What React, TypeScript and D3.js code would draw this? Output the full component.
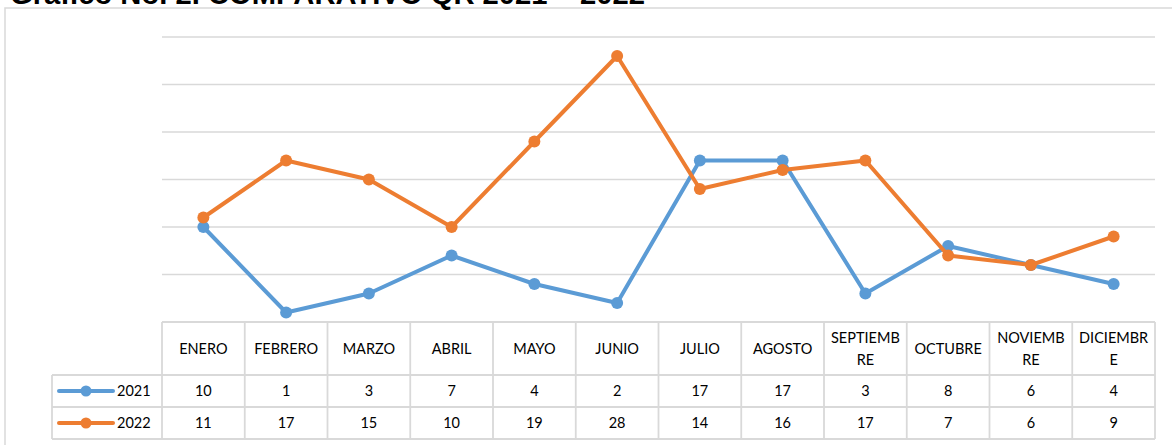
import { useEffect, useRef } from 'react'
import * as d3 from 'd3'

// months as shown in the table header (wrapped as in the original)
const months = [
  'ENERO', 'FEBRERO', 'MARZO', 'ABRIL', 'MAYO', 'JUNIO',
  'JULIO', 'AGOSTO', 'SEPTIEMBRE', 'OCTUBRE', 'NOVIEMBRE', 'DICIEMBRE',
]
const monthLines = [
  ['ENERO'], ['FEBRERO'], ['MARZO'], ['ABRIL'], ['MAYO'], ['JUNIO'],
  ['JULIO'], ['AGOSTO'], ['SEPTIEMB', 'RE'], ['OCTUBRE'], ['NOVIEMB', 'RE'], ['DICIEMBR', 'E'],
]
const values2021 = [10, 1, 3, 7, 4, 2, 17, 17, 3, 8, 6, 4]
const values2022 = [11, 17, 15, 10, 19, 28, 14, 16, 17, 7, 6, 9]
const seriesNames = ['2021', '2022']
const yTicks = [0, 5, 10, 15, 20, 25, 30]
const title = 'Grafico No. 2. COMPARATIVO QR 2021 – 2022'

const W = 1172
const H = 445
const colors = ['#5B9BD5', '#ED7D31']
const gridColor = '#d9d9d9'
const font = 'Lato, "Open Sans", sans-serif'

function App() {
  const ref = useRef<SVGSVGElement>(null)

  useEffect(() => {
    const svg = d3.select(ref.current)
    svg.selectAll('*').remove()

    const left = 162
    const right = 1155
    const plotTop = 37
    const plotBottom = 322
    const row1 = 375
    const row2 = 407
    const row3 = 439
    const legendLeft = 52

    const x = d3.scaleBand<string>().domain(months).range([left, right])
    const y = d3.scaleLinear().domain([0, 30]).range([plotBottom, plotTop])

    // outer chart frame
    svg.append('rect')
      .attr('x', 5).attr('y', 8)
      .attr('width', 1170).attr('height', 460)
      .attr('fill', 'white')
      .attr('stroke', gridColor).attr('stroke-width', 1.5)

    // title (cut by the top edge, as in the source image)
    svg.append('text')
      .attr('x', 10).attr('y', 4)
      .attr('font-family', '"Liberation Sans", Arial, sans-serif')
      .attr('font-weight', 'bold')
      .attr('font-size', 29)
      .attr('textLength', 635)
      .attr('lengthAdjust', 'spacingAndGlyphs')
      .attr('fill', '#000')
      .text(title)

    // horizontal gridlines
    svg.append('g')
      .selectAll('line')
      .data(yTicks.filter((t) => t > 0))
      .join('line')
      .attr('x1', left).attr('x2', right)
      .attr('y1', (d) => y(d)).attr('y2', (d) => y(d))
      .attr('stroke', gridColor).attr('stroke-width', 1.5)

    // data table grid
    const table = svg.append('g')
      .attr('stroke', gridColor).attr('stroke-width', 1.8).attr('fill', 'none')
    table.append('line').attr('x1', left).attr('x2', right).attr('y1', plotBottom).attr('y2', plotBottom)
    table.append('line').attr('x1', legendLeft).attr('x2', right).attr('y1', row1).attr('y2', row1)
    table.append('line').attr('x1', legendLeft).attr('x2', right).attr('y1', row2).attr('y2', row2)
    table.append('line').attr('x1', legendLeft).attr('x2', right).attr('y1', row3).attr('y2', row3)
    table.append('line').attr('x1', legendLeft).attr('x2', legendLeft).attr('y1', row1).attr('y2', row3)
    const colEdges = months.map((m) => x(m)!).concat([right])
    table.selectAll('line.col')
      .data(colEdges)
      .join('line')
      .attr('class', 'col')
      .attr('x1', (d) => d).attr('x2', (d) => d)
      .attr('y1', plotBottom).attr('y2', row3)

    const bw = x.bandwidth()
    const cx = (m: string) => x(m)! + bw / 2

    // header labels
    const header = svg.append('g')
      .attr('font-family', font).attr('font-size', 14.5)
      .attr('text-anchor', 'middle').attr('fill', '#000')
    months.forEach((m, i) => {
      const lines = monthLines[i]
      const mid = (plotBottom + row1) / 2
      lines.forEach((ln, j) => {
        const off = lines.length === 1 ? 0 : (j === 0 ? -11 : 11)
        header.append('text')
          .attr('x', cx(m)).attr('y', mid + off)
          .attr('dy', '0.35em')
          .text(ln)
      })
    })

    // value rows and legend
    const allSeries = [values2021, values2022]
    const rowMids = [(row1 + row2) / 2, (row2 + row3) / 2]
    allSeries.forEach((vals, s) => {
      svg.append('g')
        .attr('font-family', font).attr('font-size', 14.5)
        .attr('text-anchor', 'middle').attr('fill', '#000')
        .selectAll('text')
        .data(vals)
        .join('text')
        .attr('x', (_, i) => cx(months[i]))
        .attr('y', rowMids[s])
        .attr('dy', '0.35em')
        .text((d) => d)

      const lg = svg.append('g')
      lg.append('line')
        .attr('x1', 59).attr('x2', 113)
        .attr('y1', rowMids[s]).attr('y2', rowMids[s])
        .attr('stroke', colors[s]).attr('stroke-width', 4)
        .attr('stroke-linecap', 'round')
      lg.append('circle')
        .attr('cx', 86).attr('cy', rowMids[s]).attr('r', 5.5)
        .attr('fill', colors[s])
      lg.append('text')
        .attr('x', 117).attr('y', rowMids[s]).attr('dy', '0.35em')
        .attr('font-family', font).attr('font-size', 14.5)
        .attr('fill', '#000')
        .text(seriesNames[s])
    })

    // lines + markers
    const line = d3.line<number>()
      .x((_, i) => cx(months[i]))
      .y((d) => y(d))

    allSeries.forEach((vals, s) => {
      svg.append('path')
        .datum(vals)
        .attr('fill', 'none')
        .attr('stroke', colors[s])
        .attr('stroke-width', 4)
        .attr('stroke-linejoin', 'round')
        .attr('d', line)
      svg.append('g')
        .selectAll('circle')
        .data(vals)
        .join('circle')
        .attr('cx', (_, i) => cx(months[i]))
        .attr('cy', (d) => y(d))
        .attr('r', 6)
        .attr('fill', colors[s])
    })
  }, [])

  return (
    <svg
      ref={ref}
      width={W}
      height={H}
      style={{ position: 'absolute', left: 0, top: 0, background: 'white' }}
    />
  )
}

export default App
